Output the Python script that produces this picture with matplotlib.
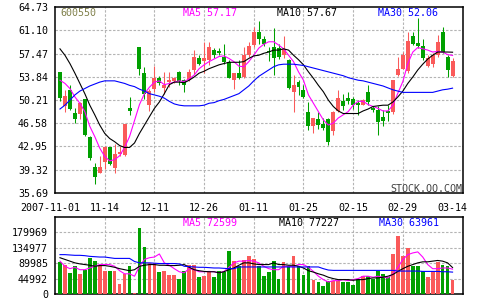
import matplotlib
matplotlib.use("Agg")
import matplotlib.pyplot as plt
import numpy as np
from matplotlib.transforms import ScaledTranslation

# daily candles, 600550, 2007-11-01 .. 2008-03-14
opens = [54.6, 49.3, 51.8, 48.2, 48.0, 50.3, 44.5, 39.7, 38.8, 40.5,
         42.8, 39.6, 41.8, 41.7, 49.0, 53.3, 58.5, 54.4, 49.4, 52.0,
         53.6, 52.1, 53.0, 53.1, 54.6, 53.4, 53.3, 54.9, 56.7, 56.3,
         56.4, 58.0, 57.9, 56.9, 56.2, 53.3, 54.4, 53.8, 57.3, 58.8,
         60.8, 59.8, 57.9, 58.5, 58.4, 57.3, 56.4, 51.4, 53.0, 51.8,
         48.4, 46.1, 47.2, 46.5, 47.3, 45.3, 48.5, 50.0, 50.5, 50.3,
         49.8, 49.5, 51.4, 49.0, 48.7, 47.5, 48.5, 48.3, 54.1, 55.1,
         54.7, 60.2, 59.1, 58.6, 55.5, 55.9, 57.2, 60.9, 56.9, 53.9]
highs = [54.6, 51.7, 52.5, 48.9, 49.9, 50.4, 44.6, 40.4, 41.4, 43.0,
         42.9, 43.3, 43.0, 46.5, 50.7, 53.35, 58.5, 55.3, 52.0, 55.5,
         54.0, 54.6, 54.6, 53.8, 54.7, 53.5, 55.0, 58.0, 57.2, 59.3,
         59.3, 58.4, 58.4, 59.0, 56.4, 54.5, 56.4, 58.5, 59.3, 61.6,
         62.5, 60.2, 58.5, 61.4, 59.0, 60.2, 56.6, 54.1, 53.3, 52.5,
         49.9, 47.4, 48.4, 47.4, 47.4, 48.5, 51.8, 51.1, 51.4, 50.7,
         50.2, 50.3, 52.5, 49.2, 49.2, 48.6, 49.4, 53.3, 57.0, 57.7,
         60.9, 60.9, 63.0, 59.8, 57.2, 57.6, 60.3, 61.6, 57.2, 56.7]
lows = [50.0, 48.3, 48.6, 46.6, 47.3, 44.6, 40.9, 37.1, 38.8, 39.5,
        40.0, 38.8, 41.4, 41.5, 47.9, 53.3, 54.1, 50.3, 48.5, 51.5,
        52.6, 51.2, 52.2, 52.8, 52.5, 51.5, 53.1, 54.2, 55.6, 54.4,
        55.7, 56.7, 57.2, 55.9, 53.6, 52.0, 53.5, 53.6, 57.0, 58.5,
        59.0, 58.6, 56.3, 54.1, 56.6, 56.8, 52.0, 48.3, 51.0, 50.5,
        45.5, 45.0, 45.7, 45.5, 43.2, 44.8, 48.4, 48.6, 49.6, 48.8,
        47.9, 49.4, 49.5, 48.3, 44.8, 46.1, 46.9, 48.0, 53.9, 55.0,
        54.5, 58.8, 58.3, 56.4, 55.3, 55.4, 57.0, 57.5, 53.8, 53.8]
closes = [50.5, 50.8, 48.8, 47.3, 49.7, 44.8, 41.1, 38.2, 39.7, 42.8,
          40.2, 41.8, 42.1, 46.5, 48.5, 53.35, 55.1, 51.2, 51.6, 53.7,
          52.9, 52.6, 53.4, 53.6, 53.1, 52.5, 54.6, 57.0, 55.9, 56.8,
          58.5, 57.2, 57.5, 56.2, 53.7, 54.4, 53.7, 57.3, 58.7, 60.8,
          59.8, 58.9, 57.7, 56.8, 57.0, 58.2, 52.1, 52.5, 52.3, 50.7,
          46.1, 47.4, 46.3, 45.9, 43.7, 48.4, 50.5, 49.2, 50.0, 49.4,
          49.5, 50.2, 49.9, 48.6, 46.7, 47.0, 48.2, 53.3, 55.1, 57.2,
          59.4, 59.0, 58.7, 56.8, 56.8, 57.2, 59.3, 57.7, 54.9, 56.3]
volumes = [93000, 86000, 60000, 83000, 57000, 71000, 106000, 96000, 86000, 66000,
           68000, 66000, 30000, 59000, 83000, 1500, 192000, 137000, 91000, 91000,
           64000, 66000, 55000, 55000, 45000, 66000, 84000, 86000, 49000, 52000,
           65000, 49000, 68000, 65000, 125000, 96000, 81000, 98000, 112000, 101000,
           83000, 52000, 65000, 96000, 45000, 93000, 81000, 110000, 81000, 55000,
           81000, 42000, 35000, 22000, 39000, 39000, 39000, 35000, 35000, 27000,
           45000, 52000, 52000, 45000, 68000, 59000, 49000, 117000, 169000, 112000,
           135000, 81000, 83000, 68000, 49000, 68000, 93000, 84000, 83000, 42000]

# moving averages as drawn on the chart
ma5 = [53.3, 52.8, 52.0, 50.7, 49.7, 48.4, 46.1, 44.5, 42.7, 41.4,
       40.7, 40.9, 41.5, 42.8, 44.5, 47.0, 49.5, 51.2, 52.2, 53.0,
       53.2, 52.6, 52.8, 53.0, 53.2, 53.1, 53.5, 54.1, 55.1, 55.7,
       56.2, 56.6, 57.0, 57.1, 56.7, 56.2, 55.5, 55.4, 56.2, 57.2,
       58.3, 58.9, 59.3, 59.3, 58.8, 58.2, 57.2, 56.2, 54.6, 53.3,
       51.0, 49.7, 48.4, 47.1, 46.3, 46.6, 47.4, 47.9, 48.4, 49.4,
       50.0, 50.0, 49.5, 49.2, 48.9, 48.5, 48.5, 49.4, 51.3, 53.1,
       55.9, 57.7, 58.4, 58.2, 58.0, 57.7, 57.8, 57.7, 57.3, 57.17]
ma10 = [58.2, 57.2, 55.9, 54.4, 52.8, 51.2, 49.4, 47.9, 46.3, 45.0,
        44.2, 43.7, 43.1, 42.8, 42.8, 43.5, 45.0, 46.3, 47.6, 48.9,
        49.9, 51.2, 52.6, 53.0, 53.0, 52.9, 53.3, 53.8, 54.4, 54.7,
        55.1, 55.4, 55.7, 55.9, 56.1, 56.1, 56.1, 56.2, 56.7, 57.1,
        57.2, 57.5, 57.7, 58.0, 58.0, 58.2, 58.0, 57.2, 56.5, 55.7,
        54.6, 53.6, 52.5, 51.5, 50.2, 49.2, 48.5, 48.1, 48.1, 48.1,
        48.1, 48.5, 48.8, 49.2, 49.3, 49.4, 49.4, 49.9, 50.7, 51.6,
        52.8, 53.8, 54.9, 55.8, 56.6, 57.2, 57.7, 57.7, 57.7, 57.67]
ma30 = [48.8, 49.4, 50.2, 51.0, 51.6, 52.0, 52.4, 52.7, 53.0, 53.2,
        53.2, 53.2, 53.0, 52.8, 52.5, 52.3, 51.9, 51.6, 51.2, 51.0,
        50.8, 50.5, 50.0, 49.6, 49.4, 49.3, 49.3, 49.3, 49.3, 49.4,
        49.7, 49.8, 50.1, 50.3, 50.6, 50.9, 51.2, 51.8, 52.4, 53.2,
        53.9, 54.4, 54.9, 55.4, 55.7, 55.8, 55.8, 55.8, 55.7, 55.6,
        55.4, 55.2, 55.0, 54.8, 54.6, 54.4, 54.2, 54.0, 53.7, 53.5,
        53.3, 53.2, 53.0, 52.8, 52.6, 52.4, 52.1, 51.8, 51.6, 51.4,
        51.4, 51.4, 51.4, 51.4, 51.4, 51.4, 51.6, 51.8, 51.9, 52.06]

vol_ma5 = [96000, 81000, 74000, 78000, 71000, 71000, 76000, 81000, 86000, 86000,
           86000, 81000, 68000, 59000, 59000, 52000, 81000, 101000, 106000, 108000,
           117000, 91000, 84000, 74000, 65000, 62000, 74000, 71000, 65000, 65000,
           66000, 65000, 62000, 66000, 78000, 91000, 96000, 96000, 98000, 96000,
           91000, 81000, 74000, 71000, 71000, 81000, 81000, 81000, 86000, 86000,
           78000, 66000, 52000, 42000, 35000, 39000, 39000, 42000, 39000, 42000,
           45000, 52000, 52000, 49000, 52000, 49000, 47000, 59000, 78000, 101000,
           115000, 120000, 123000, 108000, 86000, 74000, 74000, 76000, 76000, 72599]
vol_ma10 = [106000, 101000, 96000, 91000, 88000, 86000, 84000, 81000, 83000, 83000,
            81000, 78000, 74000, 71000, 68000, 71000, 81000, 84000, 86000, 86000,
            84000, 84000, 83000, 83000, 84000, 86000, 78000, 71000, 68000, 66000,
            65000, 65000, 62000, 65000, 71000, 76000, 84000, 91000, 91000, 88000,
            86000, 86000, 86000, 91000, 86000, 86000, 84000, 84000, 81000, 76000,
            68000, 64000, 59000, 55000, 49000, 45000, 42000, 42000, 42000, 40000,
            42000, 42000, 45000, 47000, 47000, 49000, 52000, 57000, 66000, 74000,
            81000, 86000, 91000, 94000, 94000, 96000, 98000, 96000, 91000, 77227]
vol_ma30 = [115000, 115000, 114000, 113000, 113000, 112000, 110000, 109000, 108000, 108000,
            106000, 104000, 104000, 104000, 104000, 95000, 91000, 91000, 91000, 90000,
            89000, 89000, 89000, 89000, 88000, 81000, 80000, 79000, 78000, 78000,
            77000, 76000, 76000, 75000, 74000, 74000, 79000, 79000, 79000, 79000,
            79000, 79000, 79000, 79000, 79000, 79000, 79000, 79000, 79000, 79000,
            79000, 79000, 79000, 74000, 70000, 69000, 69000, 69000, 69000, 69000,
            69000, 69000, 69000, 69000, 69000, 69000, 69000, 69000, 67000, 67000,
            67000, 67000, 67000, 66000, 66000, 66000, 66000, 65000, 65000, 63961]

date_pos = [0, 9, 19, 29, 39, 49, 59, 69, 79]
date_labels = ["2007-11-01", "11-14", "12-11", "12-26", "01-11",
               "01-25", "02-15", "02-29", "03-14"]
price_ticks = [35.69, 39.32, 42.95, 46.58, 50.21, 53.84, 57.47, 61.10, 64.73]
vol_ticks = [0, 44992, 89985, 134977, 179969]

RED = "#fa5a5a"
GREEN = "#00a000"
GRID = "#b4b4b4"
MONO = "DejaVu Sans Mono"
FS = 7.2

fig = plt.figure(figsize=(4.8, 3.0), dpi=100)
W, H = 480.0, 300.0
ax = fig.add_axes([55 / W, 1 - 193 / H, 408 / W, 186 / H])
axv = fig.add_axes([55 / W, 6 / H, 408 / W, 77 / H])

x = np.arange(len(closes))
o = np.array(opens)
c = np.array(closes)
up = c >= o
colors = np.where(up, RED, GREEN)

# candles
ax.vlines(x, lows, highs, colors=colors, linewidth=0.75, zorder=3)
body_low = np.minimum(o, c)
body_h = np.maximum(np.abs(c - o), 0.1)
ax.bar(x, body_h, bottom=body_low, width=0.8, color=colors, linewidth=0, zorder=4)

ax.plot(x, ma5, color="#ff00ff", linewidth=0.8, zorder=5)
ax.plot(x, ma10, color="black", linewidth=0.8, zorder=5)
ax.plot(x, ma30, color="#0000ff", linewidth=0.8, zorder=5)

# volume
axv.bar(x, volumes, width=0.75, color=colors, linewidth=0, zorder=3)
axv.plot(x, vol_ma5, color="#ff00ff", linewidth=0.8, zorder=5)
axv.plot(x, vol_ma10, color="black", linewidth=0.8, zorder=5)
axv.plot(x, vol_ma30, color="#0000ff", linewidth=0.8, zorder=5)

xlim = (-1.0, 81.1)
for a in (ax, axv):
    a.set_xlim(*xlim)
    for p in date_pos[1:-1]:
        a.axvline(p, color=GRID, linewidth=0.8, linestyle=(0, (2.2, 1.5)), zorder=1)
    for s in a.spines.values():
        s.set_linewidth(1.1)
        s.set_color("black")
    a.tick_params(length=0, labelsize=FS, pad=5)

ax.set_ylim(price_ticks[0], price_ticks[-1])
ax.set_yticks(price_ticks)
ax.set_yticklabels(["%.2f" % t for t in price_ticks], family=MONO)
for t in price_ticks[1:-1]:
    ax.axhline(t, color=GRID, linewidth=0.8, linestyle=(0, (2.2, 1.5)), zorder=1)

ax.set_xticks(date_pos)
ax.set_xticklabels(date_labels, family=MONO)
ax.tick_params(axis="x", pad=7)
first = ax.get_xticklabels()[0]
first.set_transform(first.get_transform() + ScaledTranslation(-10 / 100, 0, fig.dpi_scale_trans))

axv.set_ylim(0, vol_ticks[1] * 5)
axv.set_yticks(vol_ticks)
axv.set_yticklabels([str(v) for v in vol_ticks], family=MONO)
axv.set_xticks([])
for t in vol_ticks[1:]:
    axv.axhline(t, color=GRID, linewidth=0.8, linestyle=(0, (2.2, 1.5)), zorder=1)

# legends
def fx(px):
    return (px - 55) / 408.0

yt = (193 - 13) / 186.0
ax.text(fx(60), yt, "600550", color="#80804a", family=MONO, fontsize=FS, va="center", transform=ax.transAxes)
ax.text(fx(183), yt, "MA5 %.2f" % ma5[-1], color="#ff00ff", family=MONO, fontsize=FS, va="center", transform=ax.transAxes)
ax.text(fx(277), yt, "MA10 %.2f" % ma10[-1], color="black", family=MONO, fontsize=FS, va="center", transform=ax.transAxes)
ax.text(fx(378), yt, "MA30 %.2f" % ma30[-1], color="#0000ff", family=MONO, fontsize=FS, va="center", transform=ax.transAxes)
ax.text(fx(462), (193 - 188.5) / 186.0, "STOCK.QQ.COM", color="#404040", family=MONO, fontsize=FS,
        va="center", ha="right", transform=ax.transAxes)

yv = (294 - 222.5) / 77.0
axv.text(fx(183), yv, "MA5 %d" % vol_ma5[-1], color="#ff00ff", family=MONO, fontsize=FS, va="center", transform=axv.transAxes)
axv.text(fx(279), yv, "MA10 %d" % vol_ma10[-1], color="black", family=MONO, fontsize=FS, va="center", transform=axv.transAxes)
axv.text(fx(379), yv, "MA30 %d" % vol_ma30[-1], color="#0000ff", family=MONO, fontsize=FS, va="center", transform=axv.transAxes)

fig.savefig("out.png", dpi=100, facecolor="white")
